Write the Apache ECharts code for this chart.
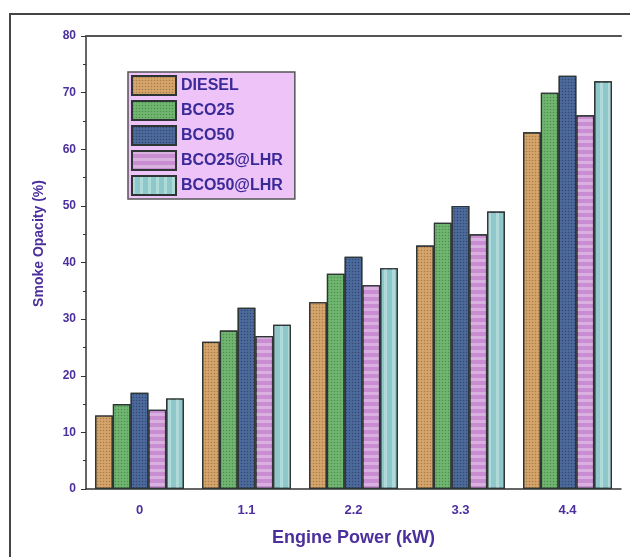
<!DOCTYPE html>
<html>
<head>
<meta charset="utf-8">
<script src="https://cdn.jsdelivr.net/npm/echarts@6/dist/echarts.min.js"></script>
<style>
  html, body { margin: 0; padding: 0; background: #fff; }
  #chart { width: 630px; height: 557px; }
</style>
</head>
<body>
<div id="chart"></div>
<script>
// engine power categories (kW)
var powers = ['0', '1.1', '2.2', '3.3', '4.4'];
var seriesNames = ['DIESEL', 'BCO25', 'BCO50', 'BCO25@LHR', 'BCO50@LHR'];
// smoke opacity (%)
var diesel = [13, 26, 33, 43, 63];
var bco25 = [15, 28, 38, 47, 70];
var bco50 = [17, 32, 41, 50, 73];
var bco25Lhr = [14, 27, 36, 45, 66];
var bco50Lhr = [16, 29, 39, 49, 72];
var yTicks = [0, 10, 20, 30, 40, 50, 60, 70, 80];

var textColor = '#4b2f9c';
var colors = ['#d6a56b', '#70b670', '#4d6a9c', '#c98ed2', '#8ec8ca'];
var decals = [
    {symbol: 'circle', symbolSize: 0.5, dashArrayX: [3, 0], dashArrayY: [3, 0], color: 'rgba(80,50,20,0.35)'},
    {symbol: 'circle', symbolSize: 0.5, dashArrayX: [3, 0], dashArrayY: [3, 0], color: 'rgba(20,70,20,0.35)'},
    {symbol: 'circle', symbolSize: 0.5, dashArrayX: [3, 0], dashArrayY: [3, 0], color: 'rgba(10,20,50,0.4)'},
    {symbol: 'rect', symbolSize: 1, dashArrayX: [1, 0], dashArrayY: [3, 4], color: 'rgba(255,255,255,0.3)'},
    {symbol: 'rect', symbolSize: 1, dashArrayX: [3, 5], dashArrayY: [1, 0], color: 'rgba(255,255,255,0.3)'}
];
var values = [diesel, bco25, bco50, bco25Lhr, bco50Lhr];

var chart = echarts.init(document.getElementById('chart'));

var series = seriesNames.map(function (name, i) {
    return {
        name: name,
        type: 'bar',
        barGap: '0%',
        barCategoryGap: '17%',
        data: values[i],
        itemStyle: {
            color: colors[i],
            borderColor: '#2e3535',
            borderWidth: 1.2,
            decal: decals[i]
        }
    };
});

var option = {
    animation: false,
    backgroundColor: '#fff',
    graphic: [{
        type: 'rect',
        shape: {x: 10, y: 14, width: 640, height: 560},
        style: {fill: 'none', stroke: '#444', lineWidth: 2}
    }],
    grid: {left: 86, right: 9, top: 36, bottom: 68},
    legend: {
        data: seriesNames,
        orient: 'vertical',
        icon: 'rect',
        left: 128,
        top: 72,
        itemWidth: 44,
        itemHeight: 19,
        itemGap: 4,
        padding: [3, 12, 3, 3],
        backgroundColor: '#eec3f8',
        borderColor: '#555',
        borderWidth: 1.5,
        textStyle: {
            color: '#3a2a98',
            fontFamily: 'Liberation Sans',
            fontWeight: 'bold',
            fontSize: 16
        }
    },
    xAxis: [{
        type: 'category',
        data: powers,
        name: 'Engine Power (kW)',
        nameLocation: 'middle',
        nameGap: 40,
        nameTextStyle: {color: textColor, fontFamily: 'Liberation Sans', fontWeight: 'bold', fontSize: 18},
        axisLine: {lineStyle: {color: '#333', width: 1.5}},
        axisTick: {alignWithLabel: true, length: 5, lineStyle: {color: '#333'}},
        axisLabel: {color: textColor, fontFamily: 'Liberation Sans', fontWeight: 'bold', fontSize: 13, margin: 15}
    }, {
        type: 'category',
        data: powers,
        position: 'bottom',
        axisLine: {show: false},
        axisTick: {length: 2, lineStyle: {color: '#555'}},
        axisLabel: {show: false}
    }, {
        type: 'category',
        data: powers,
        position: 'top',
        axisLine: {lineStyle: {color: '#555', width: 2}},
        axisTick: {show: false},
        axisLabel: {show: false}
    }],
    yAxis: {
        type: 'value',
        min: yTicks[0],
        max: yTicks[yTicks.length - 1],
        interval: 10,
        name: 'Smoke Opacity (%)',
        nameLocation: 'middle',
        nameGap: 40,
        nameTextStyle: {color: textColor, fontFamily: 'Liberation Sans', fontWeight: 'bold', fontSize: 14, padding: [0, 0, 0, 38]},
        axisLine: {show: true, lineStyle: {color: '#333', width: 1.5}},
        axisTick: {show: true, length: 5, lineStyle: {color: '#333'}},
        minorTick: {show: true, splitNumber: 2, length: 3, lineStyle: {color: '#333'}},
        splitLine: {show: false},
        axisLabel: {color: textColor, fontFamily: 'Liberation Sans', fontWeight: 'bold', fontSize: 12, margin: 10}
    },
    series: series
};

chart.setOption(option);
</script>
</body>
</html>
